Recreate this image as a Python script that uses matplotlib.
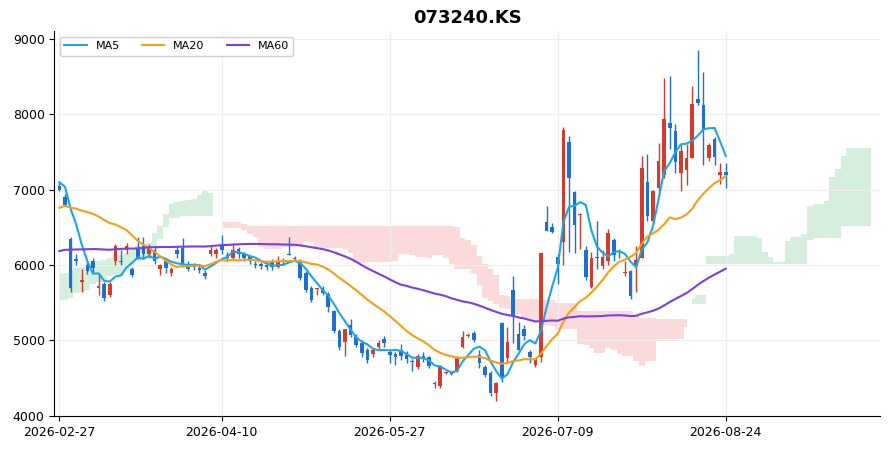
import numpy as np
import pandas as pd
import matplotlib
matplotlib.use("Agg")
import matplotlib.pyplot as plt

# 차트 이전 구간 종가 (지표 계산용, 화면에는 그리지 않음)
prior_close = [
    5300, 5250, 5150, 5080, 5150, 5200, 5250, 5300, 5350, 5300, 5400, 5450, 5400,
    5500, 5550, 5600, 5650, 5600, 5700, 5750, 5700, 5800, 5750, 5800, 5850, 5800,
    5850, 5900, 5850, 5800, 5900, 5950, 5900, 5850, 5800, 5850, 5900, 5950, 6000,
    5950, 5900, 5850, 5900, 5950, 5900, 5850, 5800, 5850, 5900, 5950, 5900, 5900,
    5950, 6000, 6050, 6100, 6050, 6100, 6200, 6250, 6200, 6300, 6350, 6300, 6400,
    6450, 6500, 6550, 6600,
    6800, 7000, 7300, 7500, 7200, 7100, 7150, 7100, 7150,
]

ohlc = [
    (7050, 7100, 6980, 7000), (6900, 6950, 6780, 6800), (6350, 6380, 5650, 5700),
    (6080, 6150, 6000, 6050), (5780, 5950, 5650, 5800), (6000, 6050, 5880, 5920),
    (6050, 6100, 5900, 5960), (5700, 5900, 5600, 5720), (5750, 5780, 5530, 5560),
    (5600, 5780, 5580, 5750), (6050, 6280, 6000, 6250), (6060, 6200, 6000, 6040),
    (6200, 6300, 6150, 6250), (5950, 5980, 5840, 5870), (6220, 6380, 6080, 6100),
    (6250, 6380, 6100, 6150), (6150, 6280, 6100, 6250), (6200, 6260, 6020, 6060),
    (5950, 6020, 5870, 6000), (6050, 6080, 5900, 5960), (5900, 5980, 5850, 5950),
    (6200, 6250, 6100, 6150), (6230, 6360, 5980, 6000), (6000, 6050, 5920, 5950),
    (5990, 6030, 5930, 5970), (5960, 6010, 5900, 5940), (5900, 5930, 5820, 5850),
    (6150, 6250, 6120, 6200), (6150, 6230, 6100, 6200), (6250, 6400, 6150, 6200),
    (6130, 6170, 6050, 6100), (6100, 6300, 6080, 6200), (6220, 6240, 6100, 6150),
    (6150, 6170, 6050, 6100), (6120, 6140, 6020, 6050), (6020, 6060, 5960, 6000),
    (6010, 6040, 5950, 5990), (6000, 6020, 5930, 5970), (6050, 6080, 5930, 5970),
    (5980, 6120, 5960, 6050), (6040, 6100, 6000, 6050), (6150, 6370, 6130, 6140),
    (6100, 6120, 6050, 6080), (6050, 6080, 5800, 5830), (5900, 5920, 5650, 5670),
    (5700, 5720, 5510, 5540), (5680, 5700, 5600, 5690), (5700, 5720, 5600, 5630),
    (5620, 5640, 5380, 5450), (5390, 5400, 5100, 5130), (5130, 5150, 4880, 4920),
    (4980, 5150, 4800, 5150), (5200, 5280, 5050, 5070), (5050, 5080, 4920, 4940),
    (4960, 5000, 4780, 4840), (4880, 4900, 4700, 4740), (4820, 4900, 4780, 4870),
    (4920, 5000, 4880, 4960), (5020, 5060, 4920, 4960), (4850, 4880, 4700, 4810),
    (4820, 4850, 4680, 4780), (4880, 4950, 4740, 4800), (4810, 4860, 4700, 4750),
    (4730, 4760, 4600, 4720), (4650, 4820, 4620, 4800), (4800, 4850, 4720, 4750),
    (4780, 4800, 4640, 4660), (4440, 4460, 4370, 4420), (4400, 4680, 4370, 4650),
    (4570, 4600, 4550, 4580), (4570, 4600, 4540, 4560), (4600, 4800, 4580, 4770),
    (4920, 5130, 4900, 5050), (5060, 5100, 5040, 5070), (5100, 5130, 4980, 5000),
    (4810, 4870, 4640, 4700), (4650, 4680, 4520, 4540), (4570, 4590, 4260, 4300),
    (4300, 4450, 4200, 4430), (5230, 5250, 4450, 4500), (4770, 5180, 4700, 4980),
    (5670, 5850, 4960, 5330), (5080, 5250, 4850, 4880), (5150, 5200, 5000, 5060),
    (4850, 4880, 4700, 4780), (4680, 4770, 4650, 4750), (4780, 6160, 4720, 6160),
    (6570, 6780, 6450, 6450), (6500, 6560, 6420, 6440), (6110, 6150, 5750, 6020),
    (6310, 7830, 6000, 7790), (7630, 7720, 6170, 7160), (6970, 6990, 6160, 6530),
    (6670, 6690, 6210, 6680), (6200, 6250, 5800, 5840), (5710, 6170, 5700, 6100),
    (6100, 6580, 5950, 6090), (5990, 6200, 5950, 6110), (6060, 6480, 6000, 6430),
    (6330, 6360, 6050, 6130), (6180, 6210, 6100, 6170), (5900, 6050, 5860, 5910),
    (5920, 5940, 5550, 5590), (5990, 6260, 5640, 6070), (6090, 7450, 6090, 7290),
    (7100, 7480, 6580, 6650), (6590, 7000, 6560, 6980), (7020, 7620, 6990, 7380),
    (7200, 8480, 7150, 7940), (7890, 8510, 7540, 7820), (7780, 7870, 7220, 7370),
    (7220, 7590, 6990, 7510), (7260, 7610, 7060, 7420), (7420, 8380, 7420, 8140),
    (8200, 8850, 8120, 8150), (8120, 8560, 7330, 7790), (7420, 7620, 7380, 7590),
    (7680, 7700, 7330, 7430), (7200, 7350, 7080, 7240), (7240, 7360, 7020, 7200),
]

tick_pos = [0, 29, 59, 89, 119]
tick_labels = ["2026-02-27", "2026-04-10", "2026-05-27", "2026-07-09", "2026-08-24"]

UP = "#d33b2c"
DOWN = "#1f6fd0"

df = pd.DataFrame(ohlc, columns=["open", "high", "low", "close"])
n_prior = len(prior_close)
full = pd.DataFrame({
    "high": list(prior_close) + df["high"].tolist(),
    "low": list(prior_close) + df["low"].tolist(),
    "close": list(prior_close) + df["close"].tolist(),
})

ma = {w: full["close"].rolling(w, min_periods=1).mean().iloc[n_prior:].to_numpy() for w in (5, 20, 60)}

tenkan = (full["high"].rolling(9).max() + full["low"].rolling(9).min()) / 2
kijun = (full["high"].rolling(26).max() + full["low"].rolling(26).min()) / 2
span_a = ((tenkan + kijun) / 2).to_numpy()
span_b = ((full["high"].rolling(52).max() + full["low"].rolling(52).min()) / 2).to_numpy()
# 선행스팬: 26봉 앞으로 이동
cloud_x = np.arange(len(full)) - n_prior + 26
keep = cloud_x >= 0
cx, sa, sb = cloud_x[keep], span_a[keep], span_b[keep]

fig, ax = plt.subplots(figsize=(8.91, 4.51), dpi=100)
fig.subplots_adjust(left=0.061, right=0.988, top=0.931, bottom=0.078)

ax.fill_between(cx, sa, sb, where=sa >= sb, color="#d6eedd", step="mid", lw=0, zorder=0)
ax.fill_between(cx, sa, sb, where=sa < sb, color="#fbdadc", step="mid", lw=0, zorder=0)

x = np.arange(len(df))
for i, (o, h, l, c) in enumerate(ohlc):
    col = UP if c >= o else DOWN
    ax.vlines(i, l, h, color=col, lw=1, zorder=2)
    ax.bar(i, max(abs(c - o), 12), bottom=min(o, c), width=0.65, color=col, zorder=3)

ax.plot(x, ma[5], color="#1ba6ea", lw=1.5, label="MA5", zorder=4)
ax.plot(x, ma[20], color="#f59e16", lw=1.5, label="MA20", zorder=4)
ax.plot(x, ma[60], color="#7b3fe4", lw=1.5, label="MA60", zorder=4)

ax.set_xlim(-0.9, 146.6)
ax.set_ylim(4000, 9106)
ax.set_yticks([4000, 5000, 6000, 7000, 8000, 9000])
ax.set_xticks(tick_pos, tick_labels)
ax.tick_params(labelsize=9)
ax.grid(True, color="#eeeeee", lw=0.8)
ax.set_axisbelow(True)
for s in ("top", "right"):
    ax.spines[s].set_visible(False)
ax.set_title("073240.KS", fontsize=13, fontweight="bold")
ax.legend(loc="upper left", ncol=3, fontsize=8, framealpha=0.95)

fig.savefig("out.png")
